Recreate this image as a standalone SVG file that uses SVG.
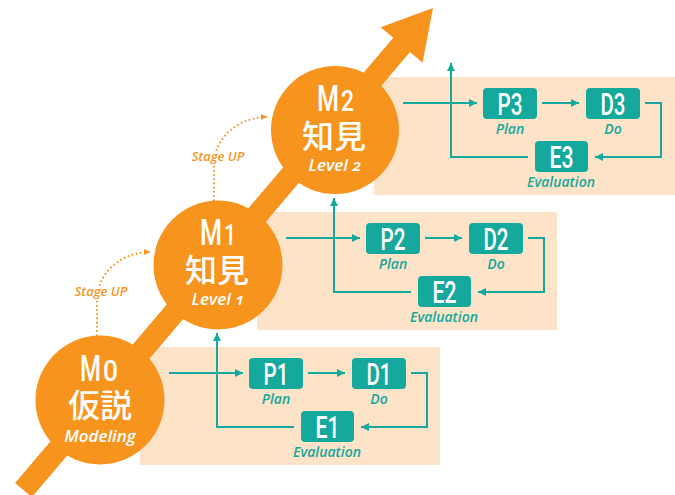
<svg xmlns="http://www.w3.org/2000/svg" width="675" height="495" viewBox="0 0 675 495">
<defs>
<style>
.bg{fill:#FDE3C8}
.orange{fill:#F7941D}
.box{fill:#15A89D}
.boxtxt{font-family:Roboto,"Liberation Sans",sans-serif;font-weight:500;font-size:31px;fill:#FFFFFF;text-anchor:middle}
.lab{font-family:"Open Sans","Liberation Sans",sans-serif;font-style:italic;font-weight:600;font-size:14px;fill:#15A89D;text-anchor:middle}
.conn{fill:none;stroke:#15A89D;stroke-width:2}
.mtitle{font-family:Roboto,"Liberation Sans",sans-serif;font-weight:500;font-size:36px;fill:#FFFFFF}
.mdig{font-family:Roboto,"Liberation Sans",sans-serif;font-weight:500;font-size:29px;fill:#FFFFFF}
.kanji{font-family:"Noto Sans CJK JP","Noto Sans CJK SC",sans-serif;font-weight:500;font-size:32px;fill:#FFFFFF;text-anchor:middle}
.sub{font-family:"Open Sans","Liberation Sans",sans-serif;font-style:italic;font-weight:600;font-size:17px;fill:#FFFFFF;text-anchor:middle;font-variant-numeric:oldstyle-nums}
.stage{font-family:"Open Sans","Liberation Sans",sans-serif;font-style:italic;font-weight:600;font-size:13px;fill:#F7941D;text-anchor:middle;stroke:#FFFFFF;stroke-width:4px;paint-order:stroke;stroke-linejoin:round}
.dots{fill:none;stroke:#F7941D;stroke-width:2;stroke-dasharray:1.6 2.6}
</style>
<marker id="ah" markerUnits="userSpaceOnUse" markerWidth="10" markerHeight="10" refX="8" refY="4" orient="auto">
<path d="M0,0 L8,4 L0,8 z" fill="#15A89D"/>
</marker>
<marker id="ahO" markerUnits="userSpaceOnUse" markerWidth="8" markerHeight="8" refX="6" refY="3" orient="auto">
<path d="M0,0 L6,3 L0,6 z" fill="#F7941D"/>
</marker>
</defs>

<g id="backgrounds">
<rect class="bg" x="140" y="347" width="300" height="118"/>
<rect class="bg" x="257" y="212" width="300" height="118"/>
<rect class="bg" x="374" y="77" width="301" height="118"/>
</g>

<g id="growth-arrow">
<polygon class="orange" transform="translate(23.5,490) rotate(-49.65)" points="0,-11 584,-11 584,-27.5 632.5,0 584,27.5 584,11 0,11"/>
</g>

<g id="stage-up">
<path class="dots" d="M97,336 V300 A53,48 0 0 1 150,252" marker-end="url(#ahO)"/>
<text class="stage" x="101" y="296">Stage UP</text>
<path class="dots" d="M214,201 V165 A53,48 0 0 1 267,117" marker-end="url(#ahO)"/>
<text class="stage" x="218" y="161">Stage UP</text>
</g>

<g id="M0">
<circle class="orange" cx="100" cy="400" r="64.5"/>
<text class="mtitle" x="80" y="381" textLength="21" lengthAdjust="spacingAndGlyphs">M</text>
<text class="mdig" x="103" y="381" textLength="15" lengthAdjust="spacingAndGlyphs">0</text>
<text class="kanji" x="100" y="417">仮説</text>
<text class="sub" x="100" y="442">Modeling</text>
</g>
<g id="M1">
<circle class="orange" cx="218" cy="265" r="64.5"/>
<text class="mtitle" x="200" y="245" textLength="22" lengthAdjust="spacingAndGlyphs">M</text>
<text class="mdig" x="224" y="245" textLength="12" lengthAdjust="spacingAndGlyphs">1</text>
<text class="kanji" x="217" y="282">知見</text>
<text class="sub" x="218" y="305">Level 1</text>
</g>
<g id="M2">
<circle class="orange" cx="335" cy="130" r="64"/>
<text class="mtitle" x="317" y="111" textLength="22" lengthAdjust="spacingAndGlyphs">M</text>
<text class="mdig" x="341" y="111" textLength="13" lengthAdjust="spacingAndGlyphs">2</text>
<text class="kanji" x="334" y="148">知見</text>
<text class="sub" x="335" y="171">Level 2</text>
</g>

<g id="connectors">
<path class="conn" d="M169,373 H243" marker-end="url(#ah)"/>
<path class="conn" d="M308,373 H345" marker-end="url(#ah)"/>
<path class="conn" d="M411,373 H427 V427 H361" marker-end="url(#ah)"/>
<path class="conn" d="M294,427 H217 V333" marker-end="url(#ah)"/>
<path class="conn" d="M286,238 H360" marker-end="url(#ah)"/>
<path class="conn" d="M425,238 H462" marker-end="url(#ah)"/>
<path class="conn" d="M528,238 H544 V292 H478" marker-end="url(#ah)"/>
<path class="conn" d="M411,292 H334 V198" marker-end="url(#ah)"/>
<path class="conn" d="M403,103 H477" marker-end="url(#ah)"/>
<path class="conn" d="M542,103 H579" marker-end="url(#ah)"/>
<path class="conn" d="M645,103 H661 V157 H595" marker-end="url(#ah)"/>
<path class="conn" d="M528,157 H451 V63" marker-end="url(#ah)"/>
</g>

<g id="P1"><rect class="box" x="249" y="358" width="54" height="31" rx="4"/><text class="boxtxt" x="276" y="385" textLength="25" lengthAdjust="spacingAndGlyphs">P1</text><text class="lab" x="276" y="404">Plan</text></g>
<g id="D1"><rect class="box" x="352" y="358" width="54" height="31" rx="4"/><text class="boxtxt" x="379" y="385" textLength="25" lengthAdjust="spacingAndGlyphs">D1</text><text class="lab" x="379" y="404">Do</text></g>
<g id="E1"><rect class="box" x="301" y="411" width="53" height="31" rx="4"/><text class="boxtxt" x="327.5" y="438" textLength="24" lengthAdjust="spacingAndGlyphs">E1</text><text class="lab" x="327" y="457">Evaluation</text></g>

<g id="P2"><rect class="box" x="366" y="223" width="54" height="31" rx="4"/><text class="boxtxt" x="393" y="250" textLength="25" lengthAdjust="spacingAndGlyphs">P2</text><text class="lab" x="393" y="269">Plan</text></g>
<g id="D2"><rect class="box" x="469" y="223" width="54" height="31" rx="4"/><text class="boxtxt" x="496" y="250" textLength="25" lengthAdjust="spacingAndGlyphs">D2</text><text class="lab" x="496" y="269">Do</text></g>
<g id="E2"><rect class="box" x="418" y="276" width="53" height="31" rx="4"/><text class="boxtxt" x="444.5" y="303" textLength="24" lengthAdjust="spacingAndGlyphs">E2</text><text class="lab" x="444" y="322">Evaluation</text></g>

<g id="P3"><rect class="box" x="483" y="88" width="54" height="31" rx="4"/><text class="boxtxt" x="510" y="115" textLength="25" lengthAdjust="spacingAndGlyphs">P3</text><text class="lab" x="510" y="134">Plan</text></g>
<g id="D3"><rect class="box" x="586" y="88" width="54" height="31" rx="4"/><text class="boxtxt" x="613" y="115" textLength="25" lengthAdjust="spacingAndGlyphs">D3</text><text class="lab" x="613" y="134">Do</text></g>
<g id="E3"><rect class="box" x="535" y="141" width="53" height="31" rx="4"/><text class="boxtxt" x="561.5" y="168" textLength="24" lengthAdjust="spacingAndGlyphs">E3</text><text class="lab" x="561" y="187">Evaluation</text></g>
</svg>
